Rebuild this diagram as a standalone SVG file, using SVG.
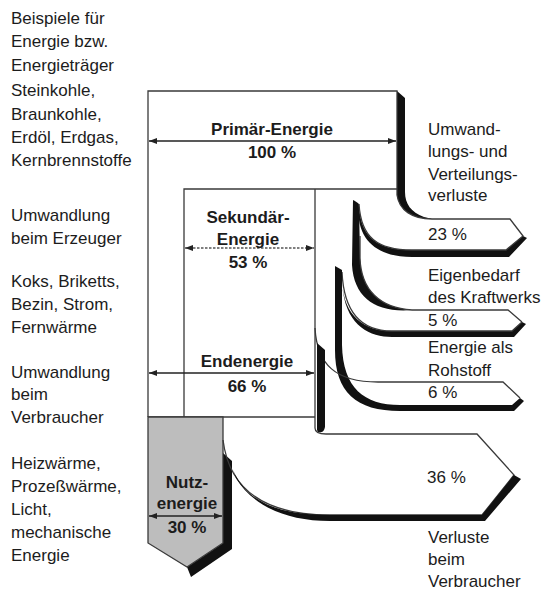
<svg xmlns="http://www.w3.org/2000/svg" width="548" height="590" viewBox="0 0 548 590">
<defs>
<style>
.t{font-family:"Liberation Sans",Arial,Helvetica,sans-serif;font-size:17px;fill:#1c1c1c}
.b{font-weight:bold;text-anchor:middle}
.ln{fill:none;stroke:#3a3a3a;stroke-width:1.3}
.sh{fill:#111;stroke:none}
.dim{fill:none;stroke:#222;stroke-width:1.3;marker-start:url(#ah);marker-end:url(#ah)}
.dash{stroke:#555;stroke-dasharray:2.5 1.5}
</style>
<marker id="ah" viewBox="0 0 8 6" refX="8" refY="3" markerWidth="8" markerHeight="6" markerUnits="userSpaceOnUse" orient="auto-start-reverse">
<path d="M0,0 L8,3 L0,6 Z" fill="#222"/>
</marker>
</defs>
<rect width="548" height="590" fill="#fff"/>

<g id="left-labels" class="t">
<text x="11" y="24">Beispiele für</text>
<text x="11" y="47">Energie bzw.</text>
<text x="11" y="71">Energieträger</text>
<text x="11" y="96">Steinkohle,</text>
<text x="11" y="120">Braunkohle,</text>
<text x="11" y="143">Erdöl, Erdgas,</text>
<text x="11" y="166">Kernbrennstoffe</text>
<text x="11" y="221">Umwandlung</text>
<text x="11" y="244">beim Erzeuger</text>
<text x="11" y="287">Koks, Briketts,</text>
<text x="11" y="310">Bezin, Strom,</text>
<text x="11" y="333">Fernwärme</text>
<text x="11" y="378">Umwandlung</text>
<text x="11" y="400">beim</text>
<text x="11" y="423">Verbraucher</text>
<text x="11" y="469">Heizwärme,</text>
<text x="11" y="492">Prozeßwärme,</text>
<text x="11" y="515">Licht,</text>
<text x="11" y="538">mechanische</text>
<text x="11" y="561">Energie</text>
</g>

<g id="primary">
<path class="sh" d="M397,91 L405,98 L405,192 C405,204 411,212 424,217 L432,219 C412,219 399,210 397,195 Z"/>
<path class="ln" d="M148,417 V91 H397 V195"/>
<path class="ln" d="M148,417 H315"/>
<path class="dim" d="M149,141 H396"/>
<text class="t b" x="272" y="135">Primär-Energie</text>
<text class="t b" x="272" y="158">100 %</text>
</g>

<g id="secondary">
<path class="ln" d="M184,417 V189 H397 M315,189 V417"/>
<path class="dim dash" d="M185,248 H314"/>
<text class="t b" x="248" y="223">Sekundär-</text>
<text class="t b" x="248" y="245">Energie</text>
<text class="t b" x="248" y="268">53 %</text>
</g>

<g id="endenergie">
<path class="dim" d="M149,373 H314"/>
<text class="t b" x="247" y="367">Endenergie</text>
<text class="t b" x="247" y="392">66 %</text>
</g>

<g id="nutzenergie">
<path class="sh" d="M223,453 L232,461 L232,549 L191,577 L187,567 L223,543 Z"/>
<path d="M148,417 H223 V543 L187,567 L148,543 Z" fill="#bdbdbd" stroke="#3a3a3a" stroke-width="1.3"/>
<path class="dim" d="M149,516 H222"/>
<text class="t b" x="187" y="488">Nutz-</text>
<text class="t b" x="187" y="509">energie</text>
<text class="t b" x="187" y="533">30 %</text>
</g>

<g id="connectors">
<g id="loss23">
<path class="sh" d="M353,200 C355,201 357,202 359,204 L360,258 C361,290 380,308 412,310 C376,313 354,298 352,265 Z"/>
<path class="sh" d="M359,220 C363,246 384,257 412,257 H509 L527,238 L523,236 L506,250 H412 C378,250 361,238 359,206 Z"/>
<path class="ln" d="M397,195 C399,210 412,219 432,219 H510 L523,236 L506,250 H412 C378,250 361,238 359,204"/>
</g>
<g id="loss5">
<path class="ln" d="M360,236 V258 C361,290 380,308 412,310 H508 L522,322"/>
<path class="sh" d="M343,292 C348,326 370,337 392,337 H514 L526,324 L522,322 L512,331 H392 C364,331 344,316 342,282 Z"/>
<path class="ln" d="M342,272 C344,316 364,331 392,331 H512 L522,322"/>
</g>
<g id="loss6">
<path class="sh" d="M335,266 L342,270 L342,345 C343,388 364,405 400,405 H512 L520,398 L524,401 L514,411 H400 C356,411 335,392 335,350 Z"/>
<path class="ln" d="M315,328 C317,365 336,382 378,382 H503 L520,398"/>
</g>
<g id="loss36">
<path class="sh" d="M317,343 L325,350 L325,427 C324,432 321,433 318,432 L317,430 Z"/>
<path class="ln" d="M315,417 V428 C315,432 318,434 326,434 H477 L514,475 L482,515 H330 C262,515 229,488 223,440"/>
<path class="sh" d="M236,478 C252,505 285,521 330,521 H485 L521,479 L514,475 L482,515 H330 C275,515 246,500 233,470 Z"/>
</g>
</g>

<g id="right-labels" class="t">
<text x="428" y="135">Umwand-</text>
<text x="428" y="157">lungs- und</text>
<text x="428" y="180">Verteilungs-</text>
<text x="428" y="201">verluste</text>
<text x="428" y="240">23 %</text>
<text x="428" y="281">Eigenbedarf</text>
<text x="428" y="303">des Kraftwerks</text>
<text x="428" y="326">5 %</text>
<text x="428" y="353">Energie als</text>
<text x="428" y="376">Rohstoff</text>
<text x="428" y="398">6 %</text>
<text x="427" y="483">36 %</text>
<text x="428" y="543">Verluste</text>
<text x="428" y="565">beim</text>
<text x="428" y="587">Verbraucher</text>
</g>
</svg>
